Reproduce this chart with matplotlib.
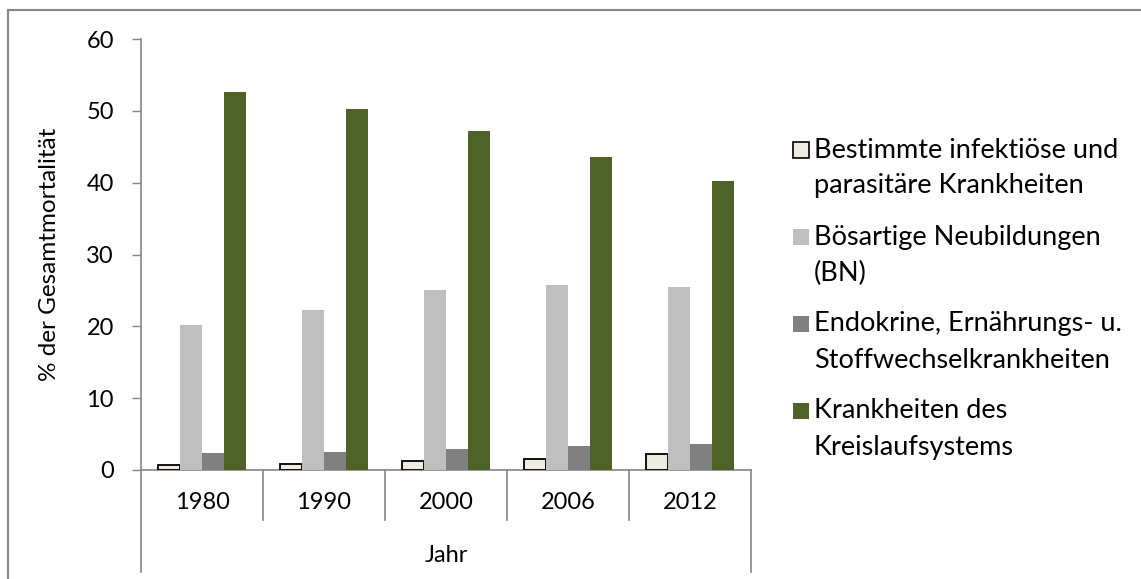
import numpy as np
import matplotlib
matplotlib.use('Agg')
import matplotlib.pyplot as plt
from matplotlib.patches import Rectangle
from matplotlib.lines import Line2D

plt.rcParams['font.family'] = ['Lato', 'DejaVu Sans']

# data
jahre = ['1980', '1990', '2000', '2006', '2012']
infektioes = [0.7, 0.9, 1.3, 1.6, 2.2]
neubildungen = [20.2, 22.3, 25.1, 25.8, 25.5]
endokrine = [2.4, 2.5, 2.9, 3.3, 3.6]
kreislauf = [52.6, 50.3, 47.2, 43.6, 40.2]

labels = ['Bestimmte infektiöse und\nparasitäre Krankheiten',
          'Bösartige Neubildungen\n(BN)',
          'Endokrine, Ernährungs- u.\nStoffwechselkrankheiten',
          'Krankheiten des\nKreislaufsystems']
farben = ['#EEECE1', '#BFBFBF', '#808080', '#4F6228']
kanten = ['black', 'none', 'none', 'none']

W, H = 1141, 579
grau = '#868686'
fs = 17
fs_leg = 19.5

fig = plt.figure(figsize=(W/100, H/100), dpi=100)
ax = fig.add_axes([141/W, 1-470/H, (751-141)/W, (470-39)/H])

x = np.arange(len(jahre))
b = 0.18
serien = [infektioes, neubildungen, endokrine, kreislauf]
for i, werte in enumerate(serien):
    ax.bar(x + (i-1.5)*b, werte, b, color=farben[i], edgecolor=kanten[i],
           linewidth=1.3 if kanten[i] != 'none' else 0, zorder=3)

ax.set_xlim(-0.5, len(jahre)-0.5)
ax.set_ylim(0, 60)
ax.set_yticks(np.arange(0, 61, 10))
ax.tick_params(axis='y', direction='out', length=6.5, width=1, color=grau,
               labelsize=fs, pad=13)
ax.set_xticks(x)
ax.set_xticklabels(jahre, fontsize=fs)
ax.tick_params(axis='x', length=0, pad=16)

for s in ['top', 'right']:
    ax.spines[s].set_visible(False)
for s in ['left', 'bottom']:
    ax.spines[s].set_color(grau)
    ax.spines[s].set_linewidth(1.2)

ax.set_ylabel('% der Gesamtmortalität', fontsize=17.5, labelpad=19)

# Kategorie-Trennlinien
trans = ax.get_xaxis_transform()
grenzen = np.arange(len(jahre)+1) - 0.5
for k, g in enumerate(grenzen):
    aussen = k == 0 or k == len(grenzen)-1
    unten = -0.237 if aussen else -0.116
    ax.add_line(Line2D([g, g], [0, unten], transform=trans, color=grau,
                       lw=1.2, clip_on=False))
ax.text(0.5, -(555-470)/431, 'Jahr', transform=ax.transAxes, ha='center',
        va='center', fontsize=fs)

# Rahmen
fig.add_artist(Line2D([8/W, 8/W], [0, 1-10/H], transform=fig.transFigure,
                      color=grau, lw=1.5))
fig.add_artist(Line2D([8/W, 1], [1-10/H, 1-10/H], transform=fig.transFigure,
                      color=grau, lw=1.5))

# Legende
y0 = 150
for i, lab in enumerate(labels):
    yc = y0 + i*87
    fig.add_artist(Rectangle((793/W, 1-(yc+8)/H), 16/W, 16/H,
                             transform=fig.transFigure, facecolor=farben[i],
                             edgecolor=kanten[i], lw=1.2))
    for j, zeile in enumerate(lab.split('\n')):
        fig.text(814/W, 1-(yc + j*36)/H, zeile, fontsize=fs_leg, va='center',
                 ha='left')

fig.savefig('out.png', dpi=100)
